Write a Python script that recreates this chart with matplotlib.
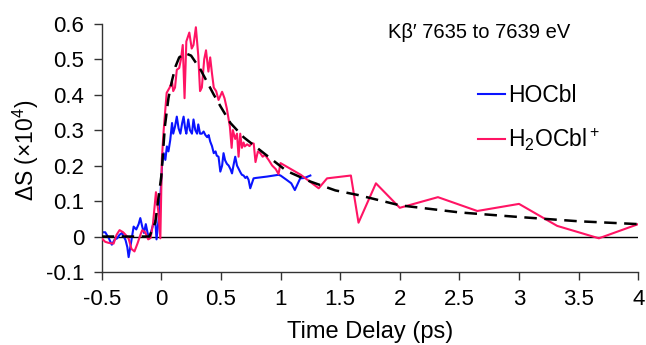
import matplotlib
matplotlib.use("Agg")
import matplotlib.pyplot as plt
from matplotlib.lines import Line2D

plt.rcParams['font.family'] = ['Liberation Sans', 'DejaVu Sans']
plt.rcParams['mathtext.default'] = 'regular'

# HOCbl trace
hocbl_t = [-0.50, -0.47, -0.44, -0.415, -0.39, -0.37, -0.35, -0.33, -0.30, -0.285, -0.274,
           -0.255, -0.232, -0.21, -0.19, -0.176, -0.16, -0.145, -0.13, -0.115, -0.10, -0.08,
           -0.065, -0.05, -0.04, -0.02, -0.008, 0.006, 0.02, 0.034, 0.047, 0.06, 0.075,
           0.09, 0.10, 0.115, 0.13, 0.145, 0.16, 0.175, 0.187, 0.20, 0.21, 0.226, 0.24,
           0.257, 0.27, 0.285, 0.30, 0.31, 0.325, 0.34, 0.355, 0.37, 0.385, 0.397, 0.41,
           0.425, 0.44, 0.455, 0.465, 0.48, 0.495, 0.51, 0.522, 0.535, 0.55, 0.565, 0.58,
           0.593, 0.605, 0.62, 0.635, 0.65, 0.665, 0.676, 0.69, 0.705, 0.718, 0.732, 0.746,
           0.76, 0.774, 0.79, 0.886, 0.983, 1.0, 1.05, 1.09, 1.12, 1.165, 1.20, 1.25]
hocbl_y = [0.012, 0.012, -0.005, -0.023, -0.008, -0.005, 0.005, 0.01, -0.01, -0.03, -0.058,
           -0.02, 0.028, 0.02, 0.035, 0.052, 0.028, 0.01, 0.035, 0.01, -0.005, 0.02,
           0.038, 0.045, -0.008, 0.056, 0.11, 0.2, 0.235, 0.216, 0.254, 0.24, 0.272,
           0.32, 0.29, 0.31, 0.338, 0.305, 0.29, 0.32, 0.338, 0.305, 0.29, 0.33, 0.30,
           0.29, 0.33, 0.30, 0.29, 0.316, 0.29, 0.29, 0.296, 0.286, 0.28, 0.286, 0.268,
           0.255, 0.235, 0.24, 0.228, 0.225, 0.183, 0.2, 0.235, 0.215, 0.205, 0.2, 0.19,
           0.178, 0.2, 0.225, 0.2, 0.19, 0.18, 0.174, 0.172, 0.165, 0.169, 0.16, 0.136,
           0.15, 0.164, 0.165, 0.169, 0.174, 0.172, 0.16, 0.15, 0.131, 0.164, 0.165, 0.172]

# H2OCbl+ trace
h2ocbl_t = [-0.50, -0.47, -0.44, -0.40, -0.375, -0.35, -0.32, -0.30, -0.275, -0.25, -0.225,
            -0.20, -0.175, -0.16, -0.135, -0.11, -0.09, -0.07, -0.045, -0.025, -0.008,
            0.005, 0.02, 0.045, 0.07, 0.09, 0.10, 0.115, 0.13, 0.15, 0.165, 0.18, 0.195,
            0.21, 0.235, 0.255, 0.27, 0.29, 0.31, 0.325, 0.34, 0.36, 0.375, 0.395, 0.41,
            0.425, 0.44, 0.46, 0.48, 0.51, 0.53, 0.55, 0.575, 0.59, 0.60, 0.62, 0.635,
            0.648, 0.662, 0.676, 0.69, 0.70, 0.72, 0.74, 0.76, 0.775, 0.79, 0.81, 0.83,
            0.85, 0.87, 0.90, 0.93, 0.96, 0.983, 1.0, 1.17, 1.32, 1.39, 1.59, 1.654, 1.80,
            2.0, 2.32, 2.65, 3.0, 3.32, 3.67, 4.0]
h2ocbl_y = [-0.005, -0.015, -0.018, -0.02, 0.005, 0.018, 0.012, 0.005, -0.005, -0.035, -0.042,
            -0.02, 0.005, 0.018, 0.012, -0.008, -0.004, 0.035, 0.125, 0.07, -0.005,
            0.22, 0.30, 0.405, 0.42, 0.437, 0.41, 0.42, 0.47, 0.475, 0.50, 0.54, 0.39,
            0.55, 0.575, 0.53, 0.54, 0.59, 0.51, 0.41, 0.42, 0.50, 0.525, 0.465, 0.505,
            0.46, 0.42, 0.41, 0.385, 0.408, 0.39, 0.36, 0.31, 0.25, 0.30, 0.275, 0.29,
            0.225, 0.29, 0.25, 0.265, 0.254, 0.26, 0.255, 0.263, 0.262, 0.21, 0.24, 0.235,
            0.225, 0.23, 0.216, 0.20, 0.19, 0.176, 0.207, 0.174, 0.136, 0.164, 0.172, 0.039, 0.150,
            0.081, 0.111, 0.072, 0.092, 0.030, -0.005, 0.035]

# fitted curve
fit_t = [-0.50, -0.10, -0.05, 0.0, 0.03, 0.06, 0.09, 0.12, 0.15, 0.20, 0.25, 0.33, 0.44,
         0.50, 0.58, 0.69, 0.86, 1.05, 1.25, 1.46, 1.65, 2.0, 2.5, 3.0, 3.5, 4.0]
fit_y = [0.0, 0.0, 0.04, 0.17, 0.31, 0.39, 0.44, 0.48, 0.505, 0.517, 0.51, 0.47, 0.40,
         0.365, 0.32, 0.28, 0.235, 0.185, 0.155, 0.13, 0.117, 0.088, 0.068, 0.055, 0.043, 0.035]

blue = '#0a14ff'
pink = '#ff1464'
W, H = 646, 345

fig = plt.figure(figsize=(6.46, 3.45), dpi=100)
ax = fig.add_axes([0.1574, 0.2116, 0.8306, 0.7197])

ax.axhline(0, color='black', lw=1.0, zorder=1)
ax.plot(fit_t, fit_y, color='black', lw=1.8, ls=(0, (5, 3)), zorder=4)
ax.plot(hocbl_t, hocbl_y, color=blue, lw=1.5, zorder=2)
ax.plot(h2ocbl_t, h2ocbl_y, color=pink, lw=1.5, zorder=3)

ax.set_xlim(-0.5, 4)
ax.set_ylim(-0.1, 0.6)
ax.set_xticks([-0.5, 0, 0.5, 1, 1.5, 2, 2.5, 3, 3.5, 4])
ax.set_xticklabels(['-0.5', '0', '0.5', '1', '1.5', '2', '2.5', '3', '3.5', '4'])
ax.set_yticks([-0.1, 0, 0.1, 0.2, 0.3, 0.4, 0.5, 0.6])
ax.set_yticklabels(['-0.1', '0', '0.1', '0.2', '0.3', '0.4', '0.5', '0.6'])
ax.tick_params(direction='out', length=5.5, width=1, labelsize=16, color='#333333')
ax.tick_params(axis='y', pad=7)
ax.tick_params(axis='x', pad=7)
for s in ['top', 'right']:
    ax.spines[s].set_visible(False)
for s in ['left', 'bottom']:
    ax.spines[s].set_color('#333333')
    ax.spines[s].set_linewidth(1)

fig.text(370 / W, 1 - 338 / H, 'Time Delay (ps)', fontsize=17, ha='center', va='baseline')
fig.text(26 / W, 1 - 150 / H, 'ΔS (×10$^{4}$)', fontsize=16.5, rotation=90,
         ha='center', va='center')

fig.text(388 / W, 1 - 32 / H, 'Kβ′ 7635 to 7639 eV', fontsize=14.5, ha='left', va='center')

handles = [Line2D([], [], color=blue, lw=1.5), Line2D([], [], color=pink, lw=1.5)]
fig.legend(handles, ['HOCbl', 'H$_2$OCbl$^+$'], loc='upper left',
           bbox_to_anchor=(478 / W, 1 - 84 / H), bbox_transform=fig.transFigure,
           frameon=False, fontsize=16.5, borderpad=0, borderaxespad=0,
           handlelength=1.18, handletextpad=0.13, labelspacing=0.85)

fig.savefig('out.png', dpi=100)
